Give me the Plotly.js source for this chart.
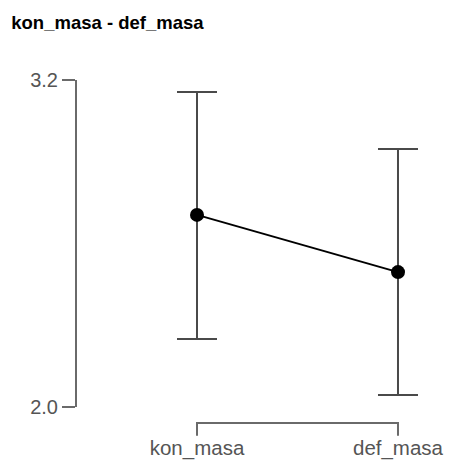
<!DOCTYPE html>
<html>
<head>
<meta charset="utf-8">
<script src="https://cdn.plot.ly/plotly-3.0.1.min.js"></script>
<style>html,body{margin:0;padding:0;background:#fff;}#chart{width:450px;height:461px;}</style>
</head>
<body>
<div id="chart"></div>
<script>
// Data
const categories = ['kon_masa', 'def_masa'];
const means = [2.705, 2.495];
const ciUpper = [3.156, 2.947];
const ciLower = [2.250, 2.044];
const yTickVals = [2.0, 3.2];
const yTickText = ['2.0', '3.2'];
const chartTitle = 'kon_masa - def_masa';

const FONT = 'Liberation Sans, Arial, Helvetica, sans-serif';
const AXIS_GREY = '#6a6a6a';
const LABEL_GREY = '#555555';

const trace = {
  type: 'scatter',
  mode: 'lines+markers',
  x: categories,
  y: means,
  line: {color: '#000000', width: 2},
  marker: {color: '#000000', size: 14},
  cliponaxis: false,
  error_y: {
    type: 'data',
    symmetric: false,
    array: means.map((m, i) => ciUpper[i] - m),
    arrayminus: means.map((m, i) => m - ciLower[i]),
    color: '#4a4a4a',
    thickness: 2,
    width: 20
  },
  hoverinfo: 'skip',
  showlegend: false
};

// bracket below the plot spanning the categories (axis decoration)
const bracketTop = -0.049, bracketBottom = -0.088;
const firstIdx = 0, lastIdx = categories.length - 1;

const layout = {
  width: 450,
  height: 461,
  paper_bgcolor: '#ffffff',
  plot_bgcolor: '#ffffff',
  margin: {l: 77, r: 10, t: 80, b: 54},
  font: {family: FONT, color: LABEL_GREY},
  title: {
    text: chartTitle,
    font: {family: FONT, size: 18.5, color: '#000000', weight: 'bold'},
    x: 0.025, xref: 'container', xanchor: 'left',
    y: 0.952, yref: 'container', yanchor: 'middle'
  },
  xaxis: {
    type: 'category',
    range: [-0.597, 1.209],
    showline: false,
    showgrid: false,
    zeroline: false,
    ticks: 'outside',
    ticklen: 22,
    tickcolor: 'rgba(0,0,0,0)',
    tickfont: {family: FONT, size: 20.5, color: LABEL_GREY},
    fixedrange: true
  },
  yaxis: {
    range: [2.0, 3.2],
    showline: true,
    linecolor: AXIS_GREY,
    linewidth: 2,
    showgrid: false,
    zeroline: false,
    ticks: 'outside',
    ticklen: 13,
    tickwidth: 2,
    tickcolor: AXIS_GREY,
    tickvals: yTickVals,
    ticktext: yTickText,
    tickfont: {family: FONT, size: 20, color: LABEL_GREY},
    fixedrange: true
  },
  shapes: [{
    type: 'path',
    xref: 'x', yref: 'paper',
    path: 'M ' + firstIdx + ',' + bracketBottom + ' L ' + firstIdx + ',' + bracketTop +
          ' L ' + lastIdx + ',' + bracketTop + ' L ' + lastIdx + ',' + bracketBottom,
    line: {color: AXIS_GREY, width: 2},
    layer: 'above'
  }]
};

Plotly.newPlot('chart', [trace], layout, {displayModeBar: false, staticPlot: true});
</script>
</body>
</html>
